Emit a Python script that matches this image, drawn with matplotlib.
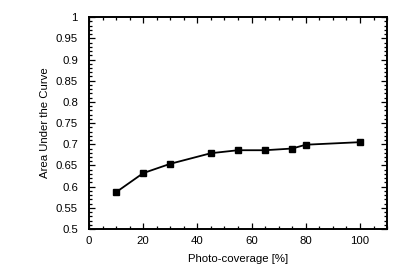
import matplotlib
matplotlib.use("Agg")
import matplotlib.pyplot as plt
from matplotlib.ticker import MultipleLocator

# data
coverage = [10, 20, 30, 45, 55, 65, 75, 80, 100]
auc = [0.587, 0.632, 0.654, 0.679, 0.686, 0.686, 0.690, 0.699, 0.705]

plt.rcParams['font.family'] = ['Liberation Sans', 'DejaVu Sans']
plt.rcParams['font.size'] = 8.2

fig = plt.figure(figsize=(4.07, 2.76), dpi=100)
ax = fig.add_axes([0.2187, 0.17, 0.7323, 0.768])

ax.plot(coverage, auc, color='black', linewidth=1.3, marker='s', markersize=3.8)

ax.set_xlim(0, 110)
ax.set_ylim(0.5, 1.0)
ax.xaxis.set_major_locator(MultipleLocator(20))
ax.xaxis.set_minor_locator(MultipleLocator(5))
ax.yaxis.set_major_locator(MultipleLocator(0.05))
ax.yaxis.set_minor_locator(MultipleLocator(0.01))
ax.set_yticklabels([f"{v:g}" for v in ax.get_yticks()])

ax.tick_params(which='both', direction='in', top=True, right=True, width=0.9)
ax.tick_params(which='major', length=4)
ax.tick_params(which='minor', length=2)
ax.tick_params(axis='y', pad=8)
ax.tick_params(axis='x', pad=5)
for s in ax.spines.values():
    s.set_linewidth(1.4)

ax.set_xlabel("Photo-coverage [%]", labelpad=6)
ax.set_ylabel("Area Under the Curve", labelpad=4)

fig.savefig("out.png", dpi=100)
